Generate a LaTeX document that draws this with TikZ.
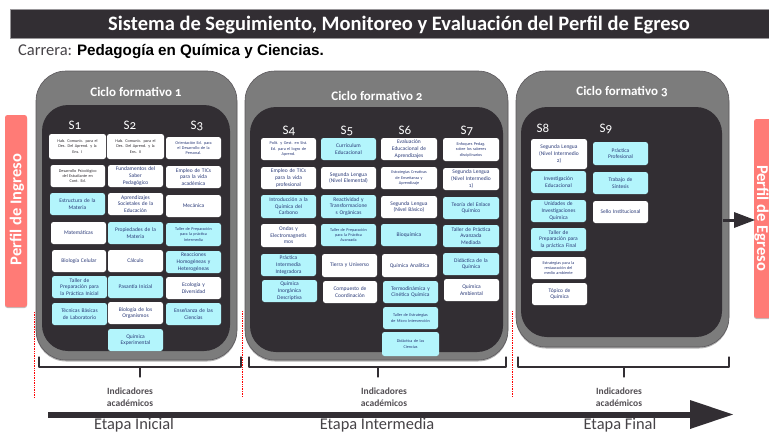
\documentclass[tikz,border=0pt]{standalone}
\usepackage{fontspec}
\setmainfont{Carlito}[Numbers=OldStyle]
\newfontfamily\arialf{Liberation Sans}
\usetikzlibrary{shadows}
\definecolor{barc}{HTML}{322E33}
\definecolor{panelc}{HTML}{7C7C7C}
\definecolor{cyanc}{HTML}{B3F5FC}
\definecolor{inkc}{HTML}{2A3A78}
\definecolor{redc}{HTML}{FF7B76}
\newcommand{\sbj}[7]{% name, x1,y1,x2,y2, style, text
\node[#6,minimum width={(#4-#2)*1pt},minimum height={(#5-#3)*1pt},text width={(#4-#2-1)*1pt}] (#1) at ({(#2+#4)/2},{(#3+#5)/2}) {#7};}
\tikzset{
 x=1pt,y=-1pt,
 wb/.style={rectangle,rounded corners=2.5pt,fill=white,inner sep=0pt,align=center,text=inkc,font=\fontsize{5.5}{6.6}\selectfont},
 cb/.style={wb,fill=cyanc},
 tiny/.style={font=\fontsize{4.2}{5.4}\selectfont},
 blk/.style={text=barc},
 semlab/.style={text=white,font=\fontsize{13}{13}\selectfont,inner sep=0pt},
 cyc/.style={text=white,font=\fontsize{13}{13}\bfseries\selectfont,inner sep=0pt},
 outer/.style={fill=panelc,draw=barc!80,line width=0.6pt,rounded corners=30pt,drop shadow={shadow xshift=0pt,shadow yshift=-1.5pt,fill=black,opacity=.3}},
 inner/.style={fill=barc,rounded corners=26pt},
 brc/.style={draw=barc,line width=1.3pt,line cap=round,line join=round},
 dotl/.style={draw=red,densely dotted,line width=0.7pt},
 ind/.style={text=barc!85,align=center,font=\fontsize{9.5}{11.5}\bfseries\selectfont,inner sep=0pt},
 etp/.style={text=barc!90,font=\fontsize{16.4}{16.4}\selectfont,inner sep=0pt},
 perf/.style={fill=redc,rounded corners=2.5pt,drop shadow={shadow xshift=0pt,shadow yshift=-1pt,fill=black,opacity=.25}},
 perft/.style={text=white,font=\fontsize{16.5}{16.5}\bfseries\selectfont,inner sep=0pt},
}
\begin{document}
\begin{tikzpicture}
\useasboundingbox (0,0) rectangle (769,434);
\path[clip] (0,0) rectangle (769,434);
% title
\node[fill=barc,draw=barc!50,line width=0.5pt,minimum width=759pt,minimum height=29pt,inner sep=0pt] (title) at (389.5,24) {};
\node[text=white,inner sep=0pt,font=\fontsize{20.5}{20.5}\bfseries\selectfont] (titlet) at (399,25) {Sistema de Seguimiento, Monitoreo y Evaluación del Perfil de Egreso};
\node[anchor=west,inner sep=0pt,font=\fontsize{16.5}{16.5}\selectfont,text=barc!90] (carr) at (18,52) {Carrera: \textcolor{black}{\arialf\fontsize{15.2}{15.2}\bfseries\selectfont Pedagogía en Química y Ciencias.}};
% perfil
\node[perf,minimum width=22pt,minimum height=192pt,inner sep=0pt] (pin) at (16,211) {};
\node[perft,rotate=90] (pint) at (17,209.5) {Perfil de Ingreso};
\node[perf,minimum width=30pt,minimum height=199pt,inner sep=0pt] (peg) at (769,218.5) {};
\node[perft,rotate=-90] (pegt) at (761.5,218) {Perfil de Egreso};
% panels
\path[outer] (36,71) rectangle (237,360);
\path[inner] (42,105) rectangle (230,351);
\path[outer] (245,71) rectangle (508,360);
\path[inner] (250,107) rectangle (503,352);
\path[outer] (516,71) rectangle (729,347);
\path[inner] (521,107) rectangle (722,337);
% arrow to egreso
\coordinate (ae) at (723,220);
\coordinate (af) at (736,220);
\draw[barc,line width=3pt] (ae) -- (af);
\fill[barc] (734,212) -- (755,220) -- (734,228) -- cycle;
% cycle titles
\node[cyc] (c1) at (136,92) {Ciclo formativo 1};
\node[cyc] (c2) at (377,96) {Ciclo formativo 2};
\node[cyc] (c3) at (622,92) {Ciclo formativo 3};
% sem labels
\node[semlab] (s1) at (75,125) {S1};
\node[semlab] (s2) at (130,125) {S2};
\node[semlab] (s3) at (197,126) {S3};
\node[semlab] (s4) at (289,131) {S4};
\node[semlab] (s5) at (347,131) {S5};
\node[semlab] (s6) at (405,130) {S6};
\node[semlab] (s7) at (467,131) {S7};
\node[semlab] (s8) at (543,128) {S8};
\node[semlab] (s9) at (606,129) {S9};
% S1
\sbj{a1}{49}{134}{106}{159}{wb,tiny,blk}{Hab. Comunic. para el\\Des. Del Aprend. y la\\Ens. I}
\sbj{a2}{50.5}{165}{105}{187}{wb,tiny,blk}{Desarrollo Psicológico\\del Estudiante en\\Cont. Ed.}
\sbj{a3}{50}{193}{105}{215}{cb}{Estructura de la\\Materia\\[5pt]}
\sbj{a4}{51}{222}{106}{244}{wb}{Matemáticas\\[5pt]}
\sbj{a5}{52}{250}{106}{272}{wb}{Biología Celular}
\sbj{a6}{52}{276}{107}{298}{cb}{Taller de\\Preparación para\\la Práctica Inicial}
\sbj{a7}{52}{303}{107}{325}{cb}{Técnicas Básicas\\de Laboratorio}
% S2
\sbj{b1}{107}{134}{164}{159}{wb,tiny,blk}{Hab. Comunic. para el\\Des. Del Aprend. y la\\Ens. II}
\sbj{b2}{108}{165}{163}{187}{wb}{Fundamentos del\\Saber\\Pedagógico}
\sbj{b3}{108}{193}{163}{215}{wb}{Aprendizajes\\Societales de la\\Educación}
\sbj{b4}{108}{222}{163}{244}{cb}{Propiedades de la\\Materia}
\sbj{b5}{108}{250}{163}{272}{wb}{Cálculo}
\sbj{b6}{108}{276}{163}{298}{cb}{Pasantía Inicial}
\sbj{b7}{108}{302}{163}{324}{wb}{Biología de los\\Organismos}
\sbj{b8}{108}{329}{163}{351}{cb}{Química\\Experimental}
% S3
\sbj{d1}{166}{137}{221}{159}{wb,tiny}{Orientación Ed. para\\el Desarrollo de la\\Personal.}
\sbj{d2}{166}{166}{221}{188}{wb}{Empleo de TICs\\para la vida\\académica}
\sbj{d3}{166}{195}{221}{217}{wb}{Mecánica}
\sbj{d4}{166}{223}{221}{246}{cb,tiny}{Taller de Preparación\\para la práctica\\Intermedia}
\sbj{d5}{166}{251}{221}{273}{cb}{Reacciones\\Homogéneas y\\Heterogéneas}
\sbj{d6}{166}{277}{221}{299}{wb}{Ecología y\\Diversidad}
\sbj{d7}{166}{303}{221}{325}{cb}{Enseñanza de las\\Ciencias}
% S4
\sbj{e1}{261}{138}{316}{160}{wb,tiny}{Polít. y Gest. en Sist.\\Ed. para el logro de\\Aprend.}
\sbj{e2}{261}{167}{316}{189}{wb}{Empleo de TICs\\para la vida\\profesional}
\sbj{e3}{261}{195}{316}{218}{cb}{Introducción a la\\Química del\\Carbono}
\sbj{e4}{261}{224}{316}{247}{wb}{Ondas y\\Electromagnetis\\mos}
\sbj{e5}{261}{254}{316}{276}{cb}{Práctica\\Intermedia\\Integradora}
\sbj{e6}{262}{280}{317}{302}{cb}{Química\\Inorgánica\\Descriptiva}
% S5
\sbj{f1}{321}{138}{376}{160}{cb}{Currículum\\Educacional}
\sbj{f2}{321}{167}{376}{189}{wb}{Segunda Lengua\\(Nivel Elemental)}
\sbj{f3}{321}{195}{376}{218}{cb}{Reactividad y\\Transformacione\\s Orgánicas}
\sbj{f4}{321}{224}{376}{246}{cb,tiny}{Taller de Preparación\\para la Práctica\\Avanzada}
\sbj{f5}{322}{254}{377}{277}{wb}{Tierra y Universo}
\sbj{f6}{323}{281}{377}{303}{wb}{Compuesto de\\Coordinación}
% S6
\sbj{g1}{381}{138}{437}{160}{wb}{Evaluación\\Educacional de\\Aprendizajes}
\sbj{g2}{381}{167}{437}{189}{wb,tiny}{Estrategias Creativas\\de Enseñanza y\\Aprendizaje}
\sbj{g3}{381}{196}{437}{218}{wb}{Segunda Lengua\\(Nivel Básico)}
\sbj{g4}{381}{224}{437}{246}{cb}{Bioquímica}
\sbj{g5}{382}{254}{437}{277}{wb}{Química Analítica}
\sbj{g6}{383}{281}{438}{303}{cb}{Termodinámica y\\Cinética Química}
\sbj{g7}{383}{307}{438}{329}{cb,tiny}{Taller de Estrategias\\de Micro Intervención}
\sbj{g8}{382}{332}{439}{356}{cb,tiny}{Didáctica de las\\Ciencias}
% S7
\sbj{h1}{443}{138}{499}{161}{wb,tiny}{Enfoques Pedag.\\sobre los saberes\\disciplinarios}
\sbj{h2}{443}{168}{499}{190}{wb}{Segunda Lengua\\(Nivel Intermedio\\1)}
\sbj{h3}{443}{197}{499}{219}{cb}{Teoría del Enlace\\Químico}
\sbj{h4}{443}{225}{499}{247}{cb}{Taller de Práctica\\Avanzada\\Mediada}
\sbj{h5}{443}{253}{499}{275}{cb}{Didáctica de la\\Química}
\sbj{h6}{444}{279}{499}{301}{wb}{Química\\Ambiental}
% S8
\sbj{i1}{531}{139}{587}{169}{wb}{Segunda Lengua\\(Nivel Intermedio\\2)}
\sbj{i2}{531}{171}{586}{193}{cb}{Investigación\\Educacional}
\sbj{i3}{531}{200}{586}{222}{cb}{Unidades de\\Investigaciones\\Química}
\sbj{i4}{531}{228}{586}{251}{cb}{Taller de\\Preparación para\\la práctica Final}
\sbj{i5}{531}{257}{586}{279}{wb,tiny}{Estrategias para la\\restauración del\\medio ambiente}
\sbj{i6}{532}{283}{587}{305}{wb}{Tópico de\\Química}
% S9
\sbj{j1}{593}{142}{648}{165}{cb}{Práctica\\Profesional}
\sbj{j2}{593}{172}{648}{194}{cb}{Trabajo de\\Síntesis}
\sbj{j3}{593}{201}{648}{223}{wb}{Sello Institucional}
% dotted
\coordinate (da) at (34,312); \coordinate (db) at (34,398);
\coordinate (dc) at (242,311); \coordinate (dd) at (242,397);
\coordinate (de) at (512,311); \coordinate (df) at (512,397);
\path[dotl] (da) -- (db);
\path[dotl] (dc) -- (dd);
\path[dotl] (de) -- (df);
% braces
\path[brc] (39,357) -- (39,367) -- (241,367) -- (241,357);
\path[brc] (140,367) -- (140,377);
\path[brc] (249,357) -- (249,367) -- (506,367) -- (506,357);
\path[brc] (378,367) -- (378,377);
\path[brc] (518,357) -- (518,367) -- (729,367) -- (729,357);
\path[brc] (624,367) -- (624,377);
% indicators
\node[ind] (i1t) at (130,397) {Indicadores\\académicos};
\node[ind] (i2t) at (384,397) {Indicadores\\académicos};
\node[ind] (i3t) at (619,397) {Indicadores\\académicos};
% bottom arrow
\coordinate (bl) at (48,415);
\coordinate (br) at (692,415);
\draw[barc,line width=6pt] (bl) -- (br);
\fill[barc] (690,400) -- (733,414.5) -- (690,429) -- cycle;
\node[etp] (e1t) at (134,425.5) {Etapa Inicial};
\node[etp] (e2t) at (377,425.5) {Etapa Intermedia};
\node[etp] (e3t) at (620,425.5) {Etapa Final};
\end{tikzpicture}
\end{document}
